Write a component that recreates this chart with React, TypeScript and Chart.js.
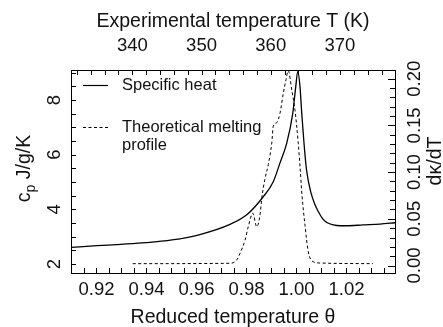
import React, { useEffect, useRef } from "react";
import { Chart, registerables } from "chart.js";

Chart.register(...registerables);

// ---- Data ----
const thetaCp = [0.9098, 0.9202, 0.9298, 0.9398, 0.9502, 0.9606, 0.9734, 0.9801, 0.9867, 0.9907, 0.9934, 0.9961, 0.9985, 0.9997, 1.0005, 1.0014, 1.0021, 1.003, 1.004, 1.0058, 1.0075, 1.0087, 1.0105, 1.0121, 1.0147, 1.0175, 1.0201, 1.0266, 1.0334, 1.0394];
const cpValues = [2.61, 2.67, 2.72, 2.78, 2.88, 3.06, 3.45, 3.8, 4.46, 5.01, 5.7, 6.42, 7.51, 8.49, 9.05, 8.49, 7.51, 6.42, 5.45, 4.6, 4.15, 3.92, 3.65, 3.52, 3.43, 3.4, 3.4, 3.43, 3.46, 3.51];

const thetaMelt = [0.9345, 0.9734, 0.9761, 0.9774, 0.9794, 0.9807, 0.9825, 0.9841, 0.9854, 0.9861, 0.9874, 0.9887, 0.9901, 0.9907, 0.9921, 0.9934, 0.9947, 0.9958, 0.9967, 0.9981, 0.9994, 1.0007, 1.0014, 1.0022, 1.0034, 1.0047, 1.0067, 1.0094, 1.0306];
const meltValues = [0.002, 0.0024, 0.006, 0.013, 0.027, 0.0415, 0.056, 0.0415, 0.054, 0.072, 0.093, 0.108, 0.131, 0.149, 0.153, 0.163, 0.184, 0.199, 0.2086, 0.188, 0.166, 0.131, 0.106, 0.075, 0.043, 0.015, 0.004, 0.0027, 0.002];

// ---- Tick labels ----
const bottomTickLabels = [0.92, 0.94, 0.96, 0.98, 1.0, 1.02];
const topTickLabels = [340, 350, 360, 370];
const leftTickLabels = [2, 4, 6, 8];
const rightTickLabels = [0.0, 0.05, 0.1, 0.15, 0.2];

// ---- Axis ranges ----
const thetaMin = 0.9098;
const thetaMax = 1.0394;
const tempMin = 331.14;
const tempMax = 377.95;
const cpMin = 1.671;
const cpMax = 9.098;
const dkMin = -0.008;
const dkMax = 0.2093;

const legendLabels = ["Specific heat", "Theoretical melting", "profile"];

function range(a: number, b: number, step: number): number[] {
  const out: number[] = [];
  const n = Math.round((b - a) / step);
  for (let i = 0; i <= n; i++) out.push(+(a + i * step).toFixed(6));
  return out;
}

const bottomMinor = range(0.91, 1.035, 0.005);
const topMinor = range(332, 376, 2);
const leftMinor = range(2, 9, 0.5);
const rightMinor = range(0, 0.2, 0.01);

const FONT = "'Liberation Sans', Arial, Helvetica, sans-serif";

const decorPlugin = {
  id: "decor",
  afterDraw(chart: any) {
    const ctx = chart.ctx as CanvasRenderingContext2D;
    const { left, right, top, bottom } = chart.chartArea;
    const sx = chart.scales.x;
    const st = chart.scales.xTop;
    const sy = chart.scales.y;
    const s2 = chart.scales.y2;
    ctx.save();
    ctx.strokeStyle = "#000";
    ctx.fillStyle = "#111";
    ctx.lineWidth = 1;
    ctx.setLineDash([]);
    // frame
    ctx.strokeRect(left + 0.5, top + 0.5, right - left, bottom - top);

    const tl = 5;
    ctx.beginPath();
    bottomMinor.forEach((v) => {
      const p = Math.round(sx.getPixelForValue(v)) + 0.5;
      ctx.moveTo(p, bottom);
      ctx.lineTo(p, bottom - tl);
    });
    topMinor.forEach((v) => {
      const p = Math.round(st.getPixelForValue(v)) + 0.5;
      ctx.moveTo(p, top);
      ctx.lineTo(p, top + tl);
    });
    leftMinor.forEach((v) => {
      const p = Math.round(sy.getPixelForValue(v)) + 0.5;
      ctx.moveTo(left, p);
      ctx.lineTo(left + tl, p);
    });
    rightMinor.forEach((v) => {
      const p = Math.round(s2.getPixelForValue(v)) + 0.5;
      const major = Math.abs(v / 0.05 - Math.round(v / 0.05)) < 1e-6;
      ctx.moveTo(right, p);
      ctx.lineTo(right - (major ? 7 : 5), p);
    });
    ctx.stroke();

    // tick labels
    ctx.font = `18.5px ${FONT}`;
    ctx.textAlign = "center";
    ctx.textBaseline = "middle";
    bottomTickLabels.forEach((v) => {
      ctx.fillText(v.toFixed(2), sx.getPixelForValue(v), 290);
    });
    topTickLabels.forEach((v) => {
      ctx.fillText(String(v), st.getPixelForValue(v), 46);
    });
    leftTickLabels.forEach((v) => {
      ctx.save();
      ctx.translate(55, sy.getPixelForValue(v));
      ctx.rotate(-Math.PI / 2);
      ctx.fillText(String(v), 0, 0);
      ctx.restore();
    });
    rightTickLabels.forEach((v) => {
      ctx.save();
      ctx.translate(415, s2.getPixelForValue(v));
      ctx.rotate(-Math.PI / 2);
      ctx.fillText(v.toFixed(2), 0, 0);
      ctx.restore();
    });

    // axis titles
    ctx.font = `19.5px ${FONT}`;
    ctx.textBaseline = "alphabetic";
    ctx.fillText("Reduced temperature \u03b8", (left + right) / 2, 323);
    ctx.fillText("Experimental temperature T (K)", (left + right) / 2, 27);

    // left title with subscript
    ctx.save();
    ctx.translate(30, 168.5);
    ctx.rotate(-Math.PI / 2);
    const f1 = `19.5px ${FONT}`;
    const f2 = `14px ${FONT}`;
    ctx.font = f1;
    const wc = ctx.measureText("c").width;
    const wr = ctx.measureText(" J/g/K").width;
    ctx.font = f2;
    const wp = ctx.measureText("p").width;
    const total = wc + wp + wr;
    let x0 = -total / 2;
    ctx.textAlign = "left";
    ctx.font = f1;
    ctx.fillText("c", x0, 0);
    x0 += wc;
    ctx.font = f2;
    ctx.fillText("p", x0, 5);
    x0 += wp;
    ctx.font = f1;
    ctx.fillText(" J/g/K", x0, 0);
    ctx.restore();

    // right title
    ctx.save();
    ctx.translate(441, 161);
    ctx.rotate(-Math.PI / 2);
    ctx.font = `19.5px ${FONT}`;
    ctx.textAlign = "center";
    ctx.fillText("d\u03ba/dT", 0, 0);
    ctx.restore();

    // legend
    ctx.font = `16.5px ${FONT}`;
    ctx.textAlign = "left";
    ctx.textBaseline = "middle";
    ctx.lineWidth = 1.2;
    ctx.beginPath();
    ctx.moveTo(83, 85.5);
    ctx.lineTo(108, 85.5);
    ctx.stroke();
    ctx.fillText(legendLabels[0], 122, 85);
    ctx.lineWidth = 1;
    ctx.setLineDash([3, 2.5]);
    ctx.beginPath();
    ctx.moveTo(83, 127.5);
    ctx.lineTo(108, 127.5);
    ctx.stroke();
    ctx.setLineDash([]);
    ctx.fillText(legendLabels[1], 122, 127);
    ctx.fillText(legendLabels[2], 122, 145);
    ctx.restore();
  },
};

export default function App() {
  const ref = useRef<HTMLCanvasElement | null>(null);
  useEffect(() => {
    if (!ref.current) return;
    const chart = new Chart(ref.current, {
      type: "line",
      data: {
        datasets: [
          {
            label: legendLabels[0],
            data: thetaCp.map((t, i) => ({ x: t, y: cpValues[i] })),
            xAxisID: "x",
            yAxisID: "y",
            borderColor: "#000",
            borderWidth: 1.3,
            pointRadius: 0,
            cubicInterpolationMode: "monotone",
            fill: false,
          },
          {
            label: legendLabels[1] + " " + legendLabels[2],
            data: thetaMelt.map((t, i) => ({ x: t, y: meltValues[i] })),
            xAxisID: "x",
            yAxisID: "y2",
            borderColor: "#000",
            borderWidth: 1,
            borderDash: [3, 2.5],
            pointRadius: 0,
            cubicInterpolationMode: "monotone",
            fill: false,
          },
        ],
      },
      options: {
        animation: false,
        responsive: false,
        layout: { padding: { left: 71, right: 48, top: 70, bottom: 54 } },
        plugins: { legend: { display: false }, tooltip: { enabled: false } },
        scales: {
          x: { type: "linear", position: "bottom", min: thetaMin, max: thetaMax, display: false },
          xTop: { type: "linear", position: "top", min: tempMin, max: tempMax, display: false },
          y: { type: "linear", position: "left", min: cpMin, max: cpMax, display: false },
          y2: { type: "linear", position: "right", min: dkMin, max: dkMax, display: false },
        },
      },
      plugins: [decorPlugin],
    } as any);
    return () => chart.destroy();
  }, []);
  return (
    <div style={{ position: "absolute", left: 0, top: 0, width: 443, height: 327, background: "#fff" }}>
      <canvas ref={ref} width={443} height={327} style={{ display: "block" }} />
    </div>
  );
}
